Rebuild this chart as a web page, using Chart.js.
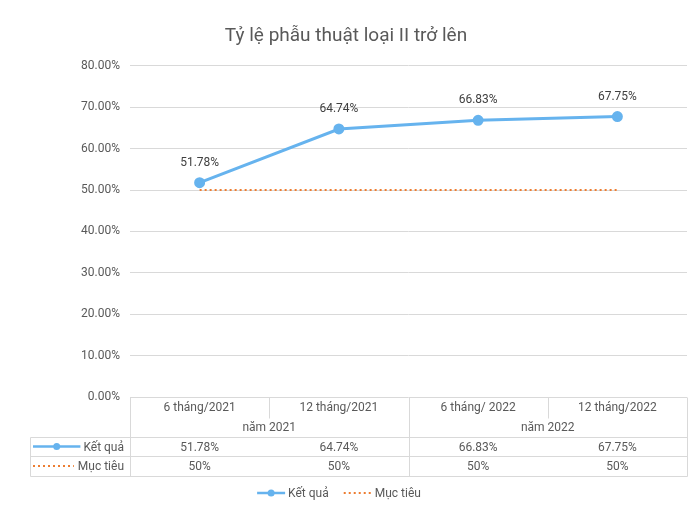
<!DOCTYPE html>
<html>
<head>
<meta charset="utf-8">
<script src="https://cdn.jsdelivr.net/npm/chart.js@4/dist/chart.umd.min.js"></script>
<style>
  html, body { margin: 0; padding: 0; background: #ffffff; }
  #wrap { width: 694px; height: 517px; position: relative; }
</style>
</head>
<body>
<div id="wrap"><canvas id="c" width="694" height="517"></canvas></div>
<script>
const titleText = 'Tỷ lệ phẫu thuật loại II trở lên';
const categories = ['6 tháng/2021', '12 tháng/2021', '6 tháng/ 2022', '12 tháng/2022'];
const groups = [
  { label: 'năm 2021', from: 0, to: 1 },
  { label: 'năm 2022', from: 2, to: 3 }
];
const seriesNames = ['Kết quả', 'Mục tiêu'];
const ketQua = [0.5178, 0.6474, 0.6683, 0.6775];
const mucTieu = [0.50, 0.50, 0.50, 0.50];
const ketQuaTable = ['51.78%', '64.74%', '66.83%', '67.75%'];
const mucTieuTable = ['50%', '50%', '50%', '50%'];

const FONT = 'Roboto';
const TXT = '#595959';
const BLUE = '#66B3EE';
const ORANGE = '#ED7D31';
const GRID = '#D9D9D9';

const tablePlugin = {
  id: 'tablePlugin',
  afterDatasetsDraw(chart) {
    const ctx = chart.ctx;
    const x = chart.scales.x;
    const area = chart.chartArea;
    const meta = chart.getDatasetMeta(0);
    ctx.save();
    // data labels
    ctx.fillStyle = '#404040';
    ctx.font = '12px ' + FONT;
    ctx.textAlign = 'center';
    ctx.textBaseline = 'middle';
    meta.data.forEach((pt, i) => {
      ctx.fillText((ketQua[i] * 100).toFixed(2) + '%', pt.x, pt.y - 20);
    });

    const n = categories.length;
    const centers = categories.map((_, i) => x.getPixelForValue(i));
    const step = n > 1 ? centers[1] - centers[0] : area.width;
    const bounds = [];
    for (let i = 0; i <= n; i++) bounds.push(centers[0] - step / 2 + i * step);

    const top = area.bottom;
    const r1 = top + 21;
    const r2 = top + 40;
    const r3 = top + 59;
    const r4 = top + 79;
    const leftKey = 30;
    const right = bounds[n];

    ctx.strokeStyle = GRID;
    ctx.lineWidth = 1;
    const line = (x1, y1, x2, y2) => {
      ctx.beginPath();
      ctx.moveTo(Math.round(x1) + 0.5, Math.round(y1) + 0.5);
      ctx.lineTo(Math.round(x2) + 0.5, Math.round(y2) + 0.5);
      ctx.stroke();
    };
    line(leftKey, r2, right, r2);
    line(leftKey, r3, right, r3);
    line(leftKey, r4, right, r4);
    line(bounds[0], top, bounds[0], r4);
    line(leftKey, r2, leftKey, r4);
    line(right, top, right, r4);
    for (let i = 1; i < n; i++) {
      const isGroupEdge = groups.some(g => g.from === i);
      line(bounds[i], top, bounds[i], isGroupEdge ? r4 : r1);
    }

    ctx.fillStyle = TXT;
    ctx.font = '12px ' + FONT;
    ctx.textAlign = 'center';
    categories.forEach((c, i) => ctx.fillText(c, centers[i], top + 11));
    groups.forEach(g => {
      ctx.fillText(g.label, (bounds[g.from] + bounds[g.to + 1]) / 2, top + 31);
    });
    ketQuaTable.forEach((v, i) => ctx.fillText(v, centers[i], (r2 + r3) / 2 + 1));
    mucTieuTable.forEach((v, i) => ctx.fillText(v, centers[i], (r3 + r4) / 2 + 1));

    // row keys
    const keyText = bounds[0] - 6;
    ctx.textAlign = 'right';
    ctx.fillText(seriesNames[0], keyText, (r2 + r3) / 2 + 1);
    ctx.fillText(seriesNames[1], keyText, (r3 + r4) / 2 + 1);
    const kw = ctx.measureText(seriesNames[0]).width;
    const kw2 = ctx.measureText(seriesNames[1]).width;
    drawKey(ctx, 0, leftKey + 3, keyText - kw - 3, (r2 + r3) / 2);
    drawKey(ctx, 1, leftKey + 3, keyText - kw2 - 4, (r3 + r4) / 2);

    // legend
    const ly = chart.height - 24;
    ctx.font = '12px ' + FONT;
    const t1 = ctx.measureText(seriesNames[0]).width;
    const t2 = ctx.measureText(seriesNames[1]).width;
    const keyW = 28, gap = 3, between = 15;
    const total = keyW + gap + t1 + between + keyW + gap + t2;
    let lx = chart.width / 2 - total / 2 - 8;
    drawKey(ctx, 0, lx, lx + keyW, ly);
    ctx.textAlign = 'left';
    ctx.fillStyle = TXT;
    ctx.fillText(seriesNames[0], lx + keyW + gap, ly + 1);
    lx += keyW + gap + t1 + between;
    drawKey(ctx, 1, lx, lx + keyW, ly);
    ctx.fillStyle = TXT;
    ctx.fillText(seriesNames[1], lx + keyW + gap, ly + 1);
    ctx.restore();
  }
};

function drawKey(ctx, idx, x1, x2, y) {
  ctx.save();
  if (idx === 0) {
    ctx.strokeStyle = BLUE;
    ctx.lineWidth = 2.5;
    ctx.beginPath(); ctx.moveTo(x1, y); ctx.lineTo(x2, y); ctx.stroke();
    ctx.fillStyle = BLUE;
    ctx.beginPath(); ctx.arc((x1 + x2) / 2, y, 3.5, 0, Math.PI * 2); ctx.fill();
  } else {
    ctx.strokeStyle = ORANGE;
    ctx.lineWidth = 2;
    ctx.setLineDash([2, 3]);
    ctx.beginPath(); ctx.moveTo(x1, y); ctx.lineTo(x2, y); ctx.stroke();
  }
  ctx.restore();
}

new Chart(document.getElementById('c'), {
  type: 'line',
  data: {
    labels: categories,
    datasets: [
      {
        label: seriesNames[0],
        data: ketQua,
        borderColor: BLUE,
        backgroundColor: BLUE,
        borderWidth: 3,
        pointRadius: 4,
        pointBackgroundColor: BLUE,
        pointBorderColor: BLUE,
        tension: 0
      },
      {
        label: seriesNames[1],
        data: mucTieu,
        borderColor: ORANGE,
        borderWidth: 2,
        borderDash: [2, 3],
        pointRadius: 0,
        tension: 0
      }
    ]
  },
  options: {
    responsive: false,
    animation: false,
    layout: { padding: { left: 0, right: 2, top: 0, bottom: 120 } },
    plugins: {
      legend: { display: false },
      tooltip: { enabled: false },
      title: {
        display: true,
        text: titleText,
        color: TXT,
        font: { family: FONT, size: 19, weight: 'normal' },
        padding: { top: 25, bottom: 18 }
      }
    },
    scales: {
      x: {
        display: false,
        offset: true
      },
      y: {
        min: 0,
        max: 0.8,
        afterFit(s) { s.width = 130; },
        border: { display: false },
        grid: { color: GRID, drawTicks: false },
        ticks: {
          stepSize: 0.1,
          padding: 10,
          color: TXT,
          font: { family: FONT, size: 12 },
          callback: v => (v * 100).toFixed(2) + '%'
        }
      }
    }
  },
  plugins: [tablePlugin]
});
</script>
</body>
</html>
